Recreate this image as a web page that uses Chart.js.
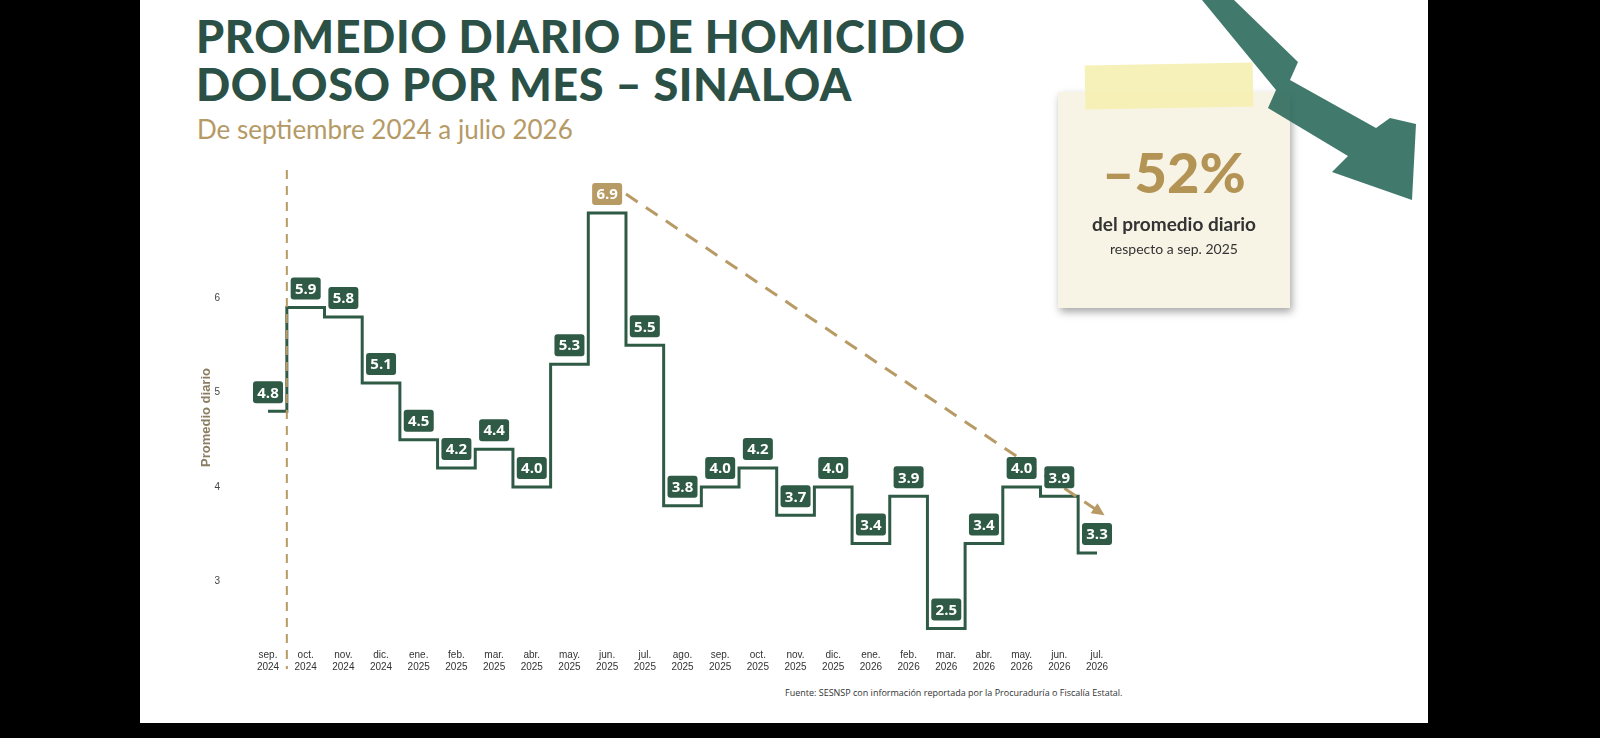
<!DOCTYPE html>
<html><head><meta charset="utf-8">
<script src="https://cdn.jsdelivr.net/npm/chart.js@4"></script>
<style>
body{margin:0;background:#000;width:1600px;height:738px;overflow:hidden;font-family:Lato,"Open Sans",sans-serif}
#page{position:absolute;left:140px;top:0;width:1288px;height:723px;background:#fff;overflow:hidden}
h1{position:absolute;left:56px;top:12px;margin:0;font:900 45px/48px Lato,sans-serif;color:#2b5147;letter-spacing:0.6px}
#sub{position:absolute;left:57px;top:113px;font:400 26px Lato,sans-serif;color:#b59a66}
#wrap{position:absolute;left:0;top:150px;width:1000px;height:535px}
#src{position:absolute;left:645px;top:686px;font:9px "Open Sans",sans-serif;color:#333}
#note{position:absolute;left:918px;top:92px;width:232px;height:216px;background:#f7f4e6;box-shadow:2px 4px 8px rgba(0,0,0,.35)}
#tape{position:absolute;left:945px;top:64px;width:168px;height:44px;background:#f5efb0;opacity:.9;transform:rotate(-1deg)}
#pct{position:absolute;left:0;top:46px;width:100%;text-align:center;font:900 56px Lato,sans-serif;color:#b49454}
#n1{position:absolute;left:0;top:120px;width:100%;text-align:center;font:700 19px Lato,sans-serif;color:#333}
#n2{position:absolute;left:0;top:148px;width:100%;text-align:center;font:14px Lato,sans-serif;color:#333}
svg{position:absolute;left:1040px;top:0}
</style></head><body>
<div id="page">
<h1>PROMEDIO DIARIO DE HOMICIDIO<br>DOLOSO POR MES – SINALOA</h1>
<div id="sub">De septiembre 2024 a julio 2026</div>
<div id="wrap"><canvas id="c"></canvas></div>
<div id="note"><div id="pct">–52%</div><div id="n1">del promedio diario</div><div id="n2">respecto a sep. 2025</div></div>
<div id="tape"></div>
<svg width="250" height="210"><polygon points="22,0 54,0 118,62 110,80 196,128 210,118 236,124 232,200 152,172 168,156 88,108 96,90" fill="#2c6a5c" opacity=".9"/></svg>
<div id="src">Fuente: SESNSP con información reportada por la Procuraduría o Fiscalía Estatal.</div>
</div>
<script>
const months = ['sep.','oct.','nov.','dic.','ene.','feb.','mar.','abr.','may.','jun.','jul.','ago.','sep.','oct.','nov.','dic.','ene.','feb.','mar.','abr.','may.','jun.','jul.'];
const years = ['2024','2024','2024','2024','2025','2025','2025','2025','2025','2025','2025','2025','2025','2025','2025','2025','2026','2026','2026','2026','2026','2026','2026'];
const values = [4.8,5.9,5.8,5.1,4.5,4.2,4.4,4.0,5.3,6.9,5.5,3.8,4.0,4.2,3.7,4.0,3.4,3.9,2.5,3.4,4.0,3.9,3.3];
const peakIndex = 9;
const trendFrom = [9.5, 7.1];
const trendTo = [22.2, 3.7];

const green = '#2f5a45', tan = '#b89a64';

const overlay = {
  id: 'overlay',
  afterDatasetsDraw(chart) {
    const {ctx, scales: {x, y}, chartArea} = chart;
    ctx.save();
    // vertical dashed start line
    ctx.strokeStyle = tan; ctx.lineWidth = 2; ctx.setLineDash([9, 7]);
    const vx = (x.getPixelForValue(0) + x.getPixelForValue(1)) / 2;
    ctx.beginPath(); ctx.moveTo(vx, 20); ctx.lineTo(vx, chartArea.bottom + 30); ctx.stroke();
    // trend arrow
    const x1 = x.getPixelForValue(trendFrom[0]), y1 = y.getPixelForValue(trendFrom[1]);
    const x2 = x.getPixelForValue(trendTo[0]), y2 = y.getPixelForValue(trendTo[1]);
    ctx.lineWidth = 3; ctx.setLineDash([14, 10]);
    ctx.beginPath(); ctx.moveTo(x1, y1); ctx.lineTo(x2 - 6, y2 - 4); ctx.stroke();
    ctx.setLineDash([]);
    const a = Math.atan2(y2 - y1, x2 - x1);
    ctx.fillStyle = tan; ctx.beginPath();
    ctx.moveTo(x2, y2);
    ctx.lineTo(x2 - 14 * Math.cos(a - 0.45), y2 - 14 * Math.sin(a - 0.45));
    ctx.lineTo(x2 - 14 * Math.cos(a + 0.45), y2 - 14 * Math.sin(a + 0.45));
    ctx.fill();
    // value labels
    ctx.font = 'bold 15px "Open Sans", sans-serif';
    ctx.textAlign = 'center'; ctx.textBaseline = 'middle';
    values.forEach((v, i) => {
      const px = x.getPixelForValue(i), py = y.getPixelForValue(v) - 19;
      const w = 30, h = 22;
      ctx.fillStyle = i === peakIndex ? tan : green;
      ctx.beginPath(); ctx.roundRect(px - w / 2, py - h / 2, w, h, 3); ctx.fill();
      ctx.fillStyle = '#fff';
      ctx.fillText(v.toFixed(1), px, py + 1);
    });
    ctx.restore();
  }
};

new Chart(document.getElementById('c'), {
  type: 'line',
  data: {
    labels: months.map((m, i) => [m, years[i]]),
    datasets: [{data: values, stepped: 'middle', borderColor: green, borderWidth: 3, pointRadius: 0}]
  },
  options: {
    responsive: true, maintainAspectRatio: false, animation: false,
    layout: {padding: {top: 13, right: 43, left: 55}},
    plugins: {legend: {display: false}, tooltip: {enabled: false}},
    scales: {
      x: {
        offset: false, grid: {display: false}, border: {display: false},
        ticks: {color: '#333', font: {size: 10}, maxRotation: 0, autoSkip: false, padding: 2},
        afterFit(s) { s.height = 40; }
      },
      y: {
        min: 2.39, max: 7.08, grid: {display: false}, border: {display: false},
        ticks: {stepSize: 1, color: '#444', font: {size: 10}, padding: 40,
          callback: v => Number.isInteger(v) ? v : ''},
        title: {display: true, text: 'Promedio diario', color: '#8a7d62', font: {size: 13, weight: 'bold'}},
        afterFit(s) { s.width = 73; }
      }
    }
  },
  plugins: [overlay]
});
</script>
</body></html>
